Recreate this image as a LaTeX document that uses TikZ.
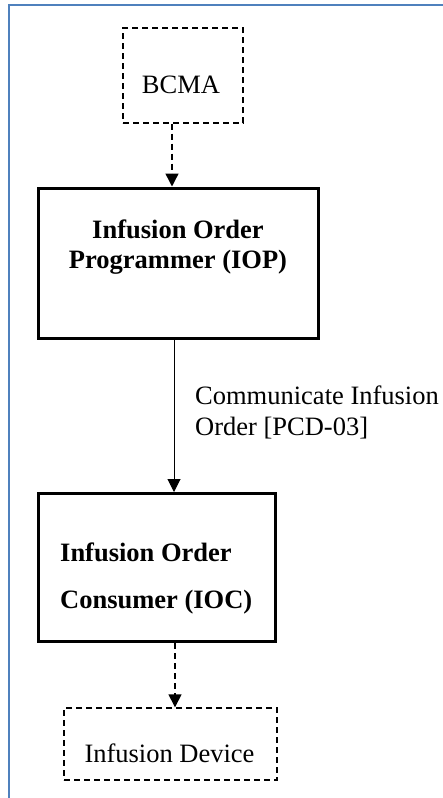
\documentclass[tikz,border=0pt]{standalone}
\usepackage{fontspec}
\setmainfont{Liberation Serif}
\usetikzlibrary{arrows.meta}
\definecolor{frameblue}{RGB}{79,129,189}
\begin{document}
\begin{tikzpicture}[x=1pt,y=-1pt,
  thickbox/.style={draw, line width=3pt, inner sep=0pt},
  dashbox/.style={draw, line width=1.4pt, dash pattern=on 6pt off 4pt, inner sep=0pt},
  txt/.style={anchor=base, inner sep=0pt, font=\fontsize{26.5pt}{30pt}\selectfont},
  btxt/.style={txt, font=\fontsize{26.5pt}{30pt}\selectfont\bfseries},
  ltxt/.style={txt, anchor=base west},
  lbtxt/.style={btxt, anchor=base west},
  tip/.style={-{Triangle[length=13pt,width=13pt]}},
  darrow/.style={tip, line width=1.4pt, dash pattern=on 6pt off 4pt},
  sarrow/.style={tip, line width=1pt}]
\useasboundingbox (0,0) rectangle (443,798);
\fill[white] (0,0) rectangle (443,798);
\draw[frameblue, line width=2pt] (8.5,810) -- (8.5,5) -- (460,5);

\node[dashbox, minimum width=120pt, minimum height=95pt] (bcma) at (183,75.5) {};
\node[txt] (bcmat) at (181,93) {BCMA};

\node[thickbox, minimum width=280pt, minimum height=150pt] (iop) at (178.5,263) {};
\node[btxt] (iopt1) at (178,238) {Infusion Order};
\node[btxt] (iopt2) at (178,268) {Programmer (IOP)};

\node[thickbox, minimum width=237pt, minimum height=148pt] (ioc) at (157,567.5) {};
\node[lbtxt] (ioct1) at (60,561) {Infusion Order};
\node[lbtxt] (ioct2) at (60,608) {Consumer (IOC)};

\node[dashbox, minimum width=213pt, minimum height=72pt] (dev) at (170.5,744) {};
\node[txt] (devt) at (169.5,762) {Infusion Device};

\node[ltxt] (lab1) at (195,404) {Communicate Infusion};
\node[ltxt] (lab2) at (195,435) {Order [PCD-03]};

\coordinate (a1) at (172,0);
\coordinate (a2) at (174,0);
\coordinate (a3) at (175,0);
\draw[darrow] (bcma.south -| a1) -- (iop.north -| a1);
\draw[sarrow] (iop.south -| a2) -- (ioc.north -| a2);
\draw[darrow] (ioc.south -| a3) -- (dev.north -| a3);
\end{tikzpicture}
\end{document}
